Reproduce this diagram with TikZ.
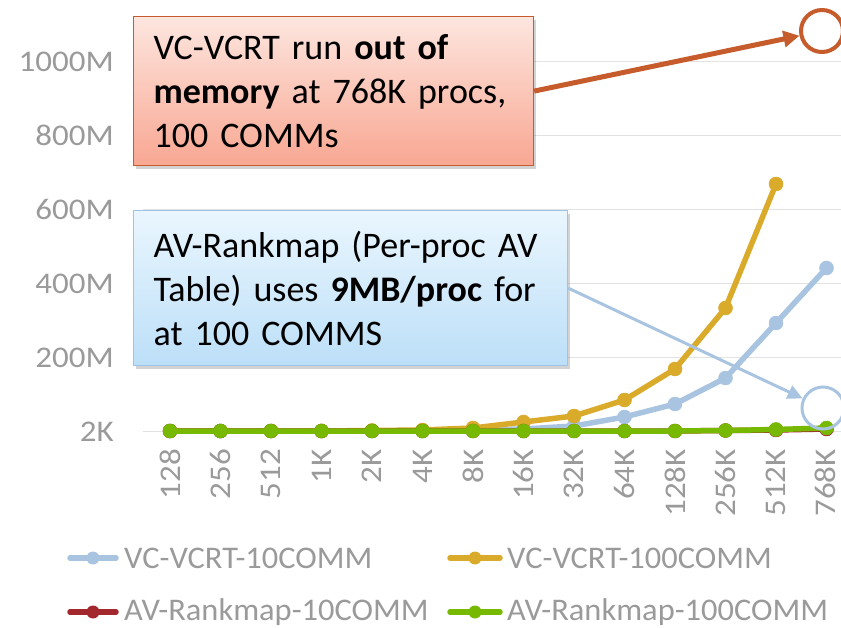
\documentclass[tikz,border=0pt]{standalone}
\usepackage{fontspec}
\setmainfont{Carlito}
\newfontfamily\axisfont[FakeStretch=1.1]{Carlito}
\newfontfamily\legendfont[FakeStretch=1.03]{Carlito}
\usetikzlibrary{arrows.meta,shadows}

\definecolor{vcten}{HTML}{A9C4E0}
\definecolor{vchund}{HTML}{DAAB2A}
\definecolor{avten}{HTML}{A3282E}
\definecolor{avhund}{HTML}{76B900}
\definecolor{axisgray}{HTML}{9A9A9A}
\definecolor{gridgray}{HTML}{E2E2E2}
\definecolor{oomedge}{HTML}{C65B2B}
\definecolor{oomtop}{HTML}{FDE6DF}
\definecolor{oombot}{HTML}{F8A792}
\definecolor{avedge}{HTML}{9DC3E6}
\definecolor{avtop}{HTML}{EAF6FE}
\definecolor{avbot}{HTML}{BCDFF8}

\tikzset{
  axislabel/.style={text=axisgray, font=\axisfont\fontsize{30}{36}\selectfont, inner sep=0pt},
  legendlabel/.style={text=axisgray, font=\legendfont\fontsize{31.5}{37}\selectfont, inner sep=0pt, anchor=west},
  gridline/.style={draw=gridgray, line width=1.5pt},
  series/.style={line width=5.5pt, line join=round, line cap=round,
    mark=*, mark size=7pt, mark options={line width=0.5pt}},
  legendline/.style={line width=5.5pt, line cap=round},
  callout/.style={draw, line width=1.2pt, anchor=north west, align=left,
    inner xsep=20pt, font=\fontsize{36}{44}\selectfont, text=black,
    drop shadow={opacity=0.35, shadow xshift=2pt, shadow yshift=-3pt}},
  oombox/.style={callout, draw=oomedge, top color=oomtop, bottom color=oombot},
  avbox/.style={callout, draw=avedge, top color=avtop, bottom color=avbot},
  ring/.style={circle, minimum size=42pt, inner sep=0pt},
}

\begin{document}
\begin{tikzpicture}[x=1pt, y=-1pt]
\useasboundingbox (0,0) rectangle (841,628);

% horizontal grid and value axis
\foreach \yy/\lab in {431.5/2K, 357.5/200M, 283.5/400M, 209.5/600M, 135.5/800M, 61.5/1000M} {
  \draw[gridline] (143,\yy) -- (841,\yy);
  \node[axislabel, anchor=east] at (114,\yy) {\lab};
}

% process-count axis
\foreach \xx/\lab in {170/128, 220.5/256, 271/512, 321.5/1K, 372/2K, 422.5/4K, 473/8K,
  523.5/16K, 574/32K, 624.5/64K, 675/128K, 725.5/256K, 776/512K, 825/768K} {
  \node[axislabel, rotate=90, anchor=east] at (\xx,449) {\lab};
}

% data series
\draw[series, vcten] plot coordinates {(170,431) (220.5,431) (271,431) (321.5,431) (372,431)
  (422.5,430.5) (473,430) (523.5,429) (574,426) (624.5,417) (675,404) (725.5,378) (776,323) (826.5,268)};
\draw[series, vchund] plot coordinates {(170,431) (220.5,431) (271,431) (321.5,431) (372,430.5)
  (422.5,430) (473,428) (523.5,422) (574,416) (624.5,400) (675,369) (725.5,308) (776,184)};
\draw[series, avten] plot coordinates {(170,431) (220.5,431) (271,431) (321.5,431) (372,431)
  (422.5,431) (473,431) (523.5,431) (574,431) (624.5,431) (675,431) (725.5,430.5) (776,430) (826.5,429)};
\draw[series, avhund] plot coordinates {(170,431) (220.5,431) (271,431) (321.5,431) (372,431)
  (422.5,431) (473,431) (523.5,431) (574,431) (624.5,431) (675,431) (725.5,430.5) (776,429.5) (826.5,428)};

% legend
\draw[legendline, vcten] (70,558) -- (116,558);
\fill[vcten] (93,558) circle (6.5pt);
\node[legendlabel] (l1) at (124,558) {VC-VCRT-10COMM};
\draw[legendline, vchund] (450,558) -- (500,558);
\fill[vchund] (475,558) circle (6.5pt);
\node[legendlabel] (l2) at (507,558) {VC-VCRT-100COMM};
\draw[legendline, avten] (70,612) -- (116,612);
\fill[avten] (93,612) circle (6.5pt);
\node[legendlabel] (l3) at (124,612) {AV-Rankmap-10COMM};
\draw[legendline, avhund] (450,612) -- (500,612);
\fill[avhund] (475,612) circle (6.5pt);
\node[legendlabel] (l4) at (507,612) {AV-Rankmap-100COMM};

% callouts
\node[oombox, minimum width=400pt, minimum height=149pt, text width=360pt] (oom) at (133,16)
  {VC-VCRT run \textbf{out of}\\\textbf{memory} at 768K procs,\\100 COMMs};
\node[avbox, minimum width=434pt, minimum height=155pt, text width=394pt] (av) at (133,210)
  {AV-Rankmap (Per-proc AV\\Table) uses \textbf{9MB/proc} for\\at 100 COMMS};

% highlight rings and pointers
\node[ring, draw=oomedge, line width=4pt, fill=white] (oomring) at (822,31) {};
\node[ring, draw=vcten, line width=3pt] (avring) at (823,408) {};
\draw[oomedge, line width=5pt, -{Triangle[length=16pt, width=16pt]}] (oom.east) -- (oomring);
\draw[vcten, line width=3pt, -{Triangle[length=15pt, width=14pt]}] (av.east) -- (avring);
\end{tikzpicture}
\end{document}
